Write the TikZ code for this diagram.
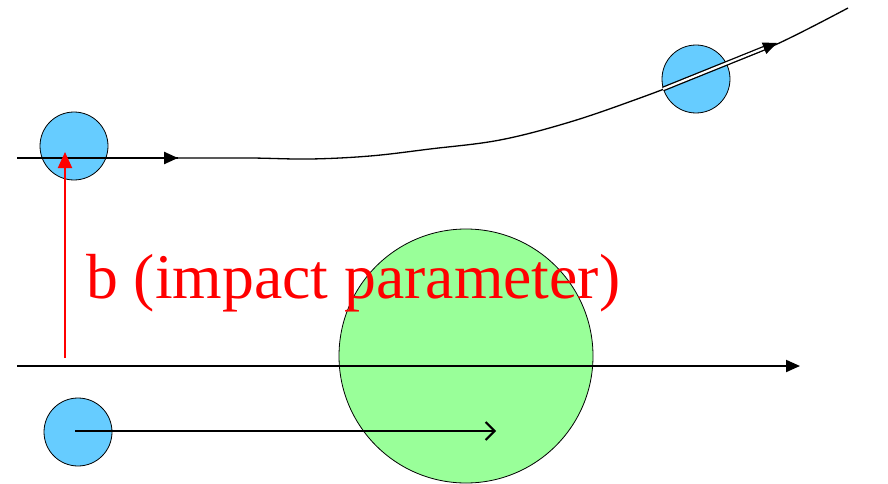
\documentclass[tikz,border=0pt]{standalone}
\usepackage{fontspec}
\setmainfont{Liberation Serif}
\usetikzlibrary{arrows.meta}
\definecolor{ballblue}{HTML}{66CCFF}
\definecolor{targetgreen}{HTML}{99FF99}
\tikzset{ball/.style={circle,draw,thick,fill=ballblue,minimum size=68pt,inner sep=0pt},
  traj/.style={line width=1.3pt},
  fwd/.style={-{Triangle[length=14pt,width=12pt]}}}
\begin{document}
\begin{tikzpicture}[x=1pt,y=-1pt]
    \useasboundingbox (0,0) rectangle (888,484);
    \node[circle,draw,thick,fill=targetgreen,minimum size=254pt,inner sep=0pt] (tgt) at (466,356) {};
    \foreach \n/\p in {inA/{(74,146)},outA/{(696,79)},inB/{(78,432)}}
      \node[ball] (\n) at \p {};
    \coordinate (s0) at (17,158); \coordinate (s1) at (178,158); \coordinate (sm) at (86,158);
    \coordinate (m0) at (17,366); \coordinate (m1) at (800,366);
    \coordinate (bA) at (75,431); \coordinate (bB) at (496,431);
    \coordinate (r0) at (65,358); \coordinate (r1) at (65,152);
    \coordinate (d0) at (663,89); \coordinate (d1) at (777,43);
    \draw[traj] (s0) -- (s1);
    \draw[traj,line width=2.4pt,fwd] (sm) -- (s1);
    \draw[traj] plot[smooth,tension=.6] coordinates {(178,158) (250,158) (310,159) (370,156)
      (430,149) (500,140) (570,122) (640,98) (700,75) (775,45) (848,8)};
    \draw[traj,double,double distance=2.2pt,fwd] (d0) -- (d1);
    \draw[traj,line width=2pt,fwd] (m0) -- (m1);
    \draw[traj,line width=2pt,-{Straight Barb[length=9pt,width=18pt,line width=2pt]}] (bA) -- (bB);
    \draw[red,line width=2pt,-{Triangle[length=16pt,width=14pt]}] (r0) -- (r1);
    \node[red,anchor=base west,inner sep=0pt,font=\fontsize{63.7}{70}\selectfont] (lbl) at (86,298) {b (impact parameter)};
\end{tikzpicture}
\end{document}
